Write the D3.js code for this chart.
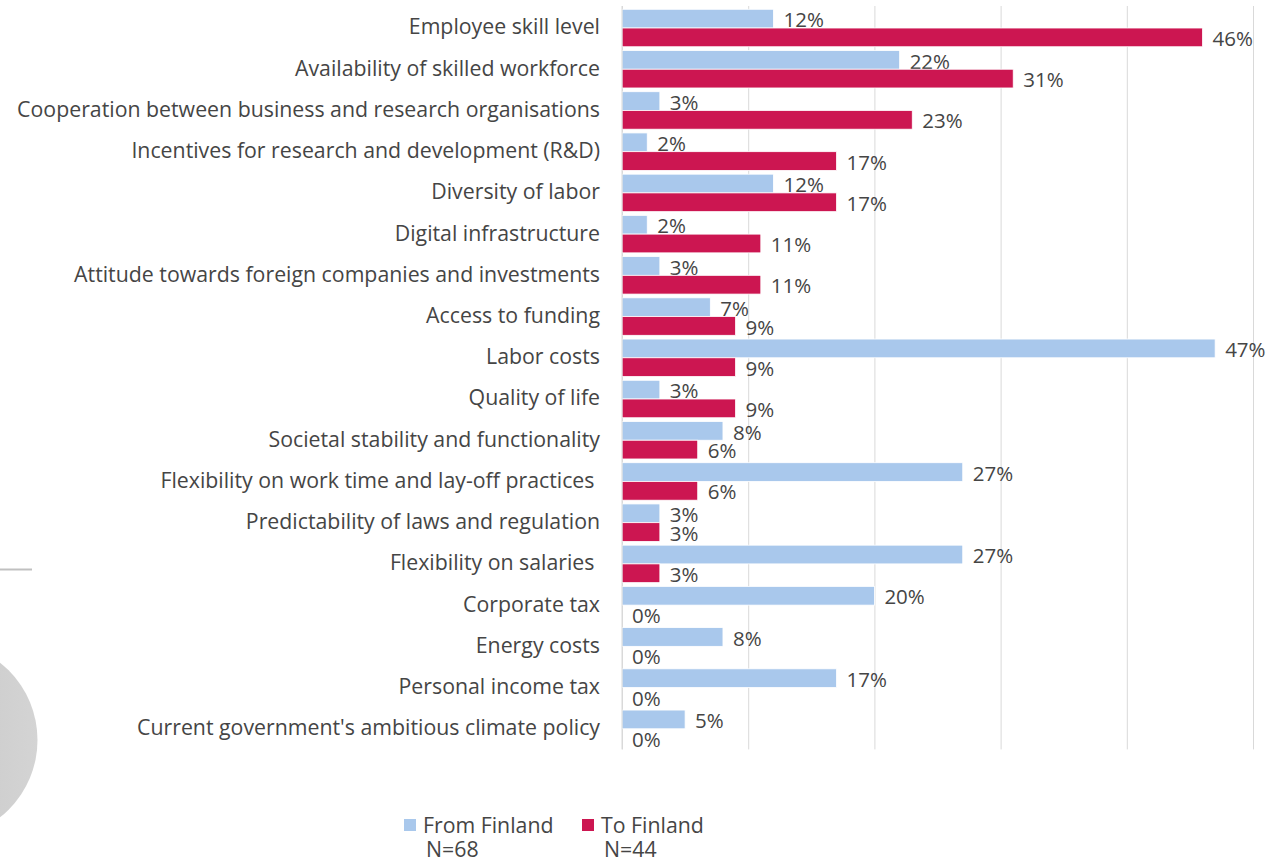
<!DOCTYPE html>
<html>
<head>
<meta charset="utf-8">
<script src="https://cdn.jsdelivr.net/npm/d3@7"></script>
<style>
  html, body { margin: 0; padding: 0; background: #fff; }
  svg { display: block; font-family: "Open Sans", "Noto Sans", sans-serif; }
  text { white-space: pre; }
</style>
</head>
<body>
<svg id="chart" width="1287" height="858"></svg>
<script>
const categories = [
  "Employee skill level",
  "Availability of skilled workforce",
  "Cooperation between business and research organisations",
  "Incentives for research and development (R&D)",
  "Diversity of labor",
  "Digital infrastructure",
  "Attitude towards foreign companies and investments",
  "Access to funding",
  "Labor costs",
  "Quality of life",
  "Societal stability and functionality",
  "Flexibility on work time and lay-off practices ",
  "Predictability of laws and regulation",
  "Flexibility on salaries ",
  "Corporate tax",
  "Energy costs",
  "Personal income tax",
  "Current government's ambitious climate policy"
];
const fromFinland = [12, 22, 3, 2, 12, 2, 3, 7, 47, 3, 8, 27, 3, 27, 20, 8, 17, 5];
const toFinland   = [46, 31, 23, 17, 17, 11, 11, 9, 9, 9, 6, 6, 3, 3, 0, 0, 0, 0];
const seriesNames = ["From Finland", "To Finland"];
const seriesN = ["N=68", "N=44"];
const colors = ["#a9c8ec", "#cc1651"];
const xTicks = [0, 10, 20, 30, 40, 50];

const svg = d3.select("#chart");
const textColor = "#454545";

// decorative elements
const defs = svg.append("defs");
const grad = defs.append("linearGradient").attr("id", "circGrad")
  .attr("x1", "0").attr("y1", "0").attr("x2", "1").attr("y2", "0");
grad.append("stop").attr("offset", "0").attr("stop-color", "#bdbdbd");
grad.append("stop").attr("offset", "1").attr("stop-color", "#d4d4d4");
svg.append("circle").attr("cx", -61).attr("cy", 740).attr("r", 98.5).attr("fill", "url(#circGrad)");
svg.append("line").attr("x1", 0).attr("x2", 32).attr("y1", 569.5).attr("y2", 569.5)
  .attr("stroke", "#c0c0c0").attr("stroke-width", 2);

const x = d3.scaleLinear().domain([0, 50]).range([622, 1253]);
const y = d3.scaleBand().domain(categories).range([7.4, 749.4]).paddingInner(0).paddingOuter(0);
const inner = d3.scaleBand().domain([0, 1]).range([0, y.bandwidth()]).paddingInner(0).paddingOuter(0.1);

// gridlines
const grid = svg.append("g")
  .attr("transform", `translate(0,${y.range()[1]})`)
  .call(d3.axisBottom(x).tickValues(xTicks).tickSize(-(y.range()[1] - 6)).tickFormat(""));
grid.select(".domain").remove();
grid.selectAll(".tick line").attr("stroke", "#d9d9d9").attr("stroke-width", 1);

// bars
const series = [fromFinland, toFinland];
const groups = svg.append("g").selectAll("g")
  .data(categories).join("g")
  .attr("transform", d => `translate(0,${y(d)})`);

series.forEach((vals, si) => {
  groups.append("rect")
    .attr("x", x(0))
    .attr("y", inner(si))
    .attr("width", (d, i) => x(vals[i]) - x(0))
    .attr("height", inner.bandwidth())
    .attr("fill", colors[si])
    .attr("stroke", "#fff")
    .attr("stroke-width", 0.8);
  groups.append("text")
    .attr("x", (d, i) => x(vals[i]) + 10)
    .attr("y", inner(si) + inner.bandwidth() / 2 + 1.5)
    .attr("dy", "0.35em")
    .attr("font-size", 20.5)
    .attr("fill", textColor)
    .text((d, i) => vals[i] + "%");
});

// axis line (vertical)
svg.append("line").attr("x1", x(0)).attr("x2", x(0)).attr("y1", 6).attr("y2", y.range()[1])
  .attr("stroke", "#d9d9d9");

// category labels
const yAxis = svg.append("g").attr("transform", `translate(${x(0)},0)`)
  .call(d3.axisLeft(y).tickSize(0).tickPadding(22));
yAxis.select(".domain").remove();
yAxis.selectAll("text")
  .attr("font-family", "'Open Sans', sans-serif")
  .attr("font-size", 21.3)
  .attr("fill", textColor)
  .attr("dy", "0.3em");

// legend
const legend = svg.append("g");
const legX = [404, 582];
seriesNames.forEach((name, i) => {
  const g = legend.append("g").attr("transform", `translate(${legX[i]},0)`);
  g.append("rect").attr("x", 0).attr("y", 819).attr("width", 12).attr("height", 12).attr("fill", colors[i]);
  g.append("text").attr("x", 19).attr("y", 833).attr("font-size", 21.3).attr("fill", textColor).text(name);
  g.append("text").attr("x", 22).attr("y", 857).attr("font-size", 21.3).attr("fill", textColor).text(seriesN[i]);
});
</script>
</body>
</html>
